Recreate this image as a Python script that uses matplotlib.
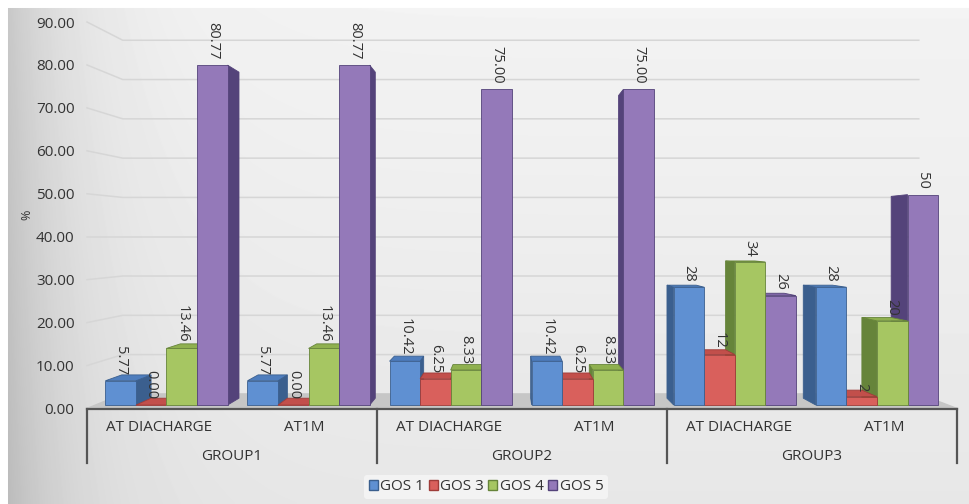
import numpy as np
import matplotlib.pyplot as plt
from matplotlib.patches import Polygon, Patch

plt.rcParams['font.family'] = ['Open Sans', 'DejaVu Sans']

# Datos
groups = ['GROUP1', 'GROUP2', 'GROUP3']
stages = ['AT DIACHARGE', 'AT1M']
series = ['GOS 1', 'GOS 3', 'GOS 4', 'GOS 5']
gos1 = [5.77, 5.77, 10.42, 10.42, 28, 28]
gos3 = [0.00, 0.00, 6.25, 6.25, 12, 2]
gos4 = [13.46, 13.46, 8.33, 8.33, 34, 20]
gos5 = [80.77, 80.77, 75.00, 75.00, 26, 50]
label_fmt = ['{:.2f}', '{:.2f}', '{:.2f}', '{:.2f}', '{:g}', '{:g}']
yticks = np.arange(0, 91, 10)

values = [gos1, gos3, gos4, gos5]
# colores: frente, lado, arriba
colors = [('#5f90d2', '#3b5f8e', '#4e7dbd'),
          ('#d9605c', '#9e3c39', '#c24f4b'),
          ('#a6c662', '#66843a', '#8fb04f'),
          ('#9479b9', '#54437a', '#7f66a6')]

# perspectiva
VX, VY = 2.4, 40.0
T0, T1 = 0.02, 0.06
TW = 0.085
bw = 0.215


def proj(x, v, t):
    return x + (VX - x) * t, v + (VY - v) * t


fig = plt.figure(figsize=(9.69, 5.04), dpi=100)

# fondo con degradado
bg = fig.add_axes([0, 0, 1, 1], zorder=-10)
H, W = 504, 969
xx, yy = np.meshgrid(np.arange(W), np.arange(H))
img = 0.955 - 0.17 * np.exp(-(xx - 8) / 70.0) - 0.05 * (yy / H)
img[(xx < 8) | (yy < 8)] = 1.0
bg.imshow(img, cmap='gray', vmin=0, vmax=1, aspect='auto', interpolation='bilinear')
bg.axis('off')

ax = fig.add_axes([87 / 969, 1 - 408.5 / 504, 870 / 969, 386.5 / 504])
ax.set_facecolor('none')
ax.set_xlim(-0.5, 5.5)
ax.set_ylim(0, 90)

# suelo
floor = [proj(-0.5, 0, 0), proj(5.5, 0, 0), proj(5.5, 0, TW), proj(-0.5, 0, TW)]
ax.add_patch(Polygon(floor, closed=True, color='#c6c6c6', zorder=1, clip_on=False))

# lineas de la cuadricula (pared del fondo y lateral)
for v in yticks[1:]:
    xl, yl = proj(-0.5, v, TW)
    xr, yr = proj(5.5, v, TW)
    ax.plot([-0.5, xl, xr], [v, yl, yr], color='#d6d6d6', lw=1.1, zorder=0.5, clip_on=False)

# barras 3D
bars = []
for j in range(6):
    for i in range(4):
        x0 = j - 2 * bw + i * bw
        bars.append((x0, x0 + bw, values[i][j], i, j))
bars.sort(key=lambda b: -abs((b[0] + b[1]) / 2 - VX))

for n, (x0, x1, h, i, j) in enumerate(bars):
    front, side, top = colors[i]
    z = 2 + n * 0.01
    if x1 <= VX or x0 >= VX:
        xs = x1 if x1 <= VX else x0
        pts = [proj(xs, 0, T0), proj(xs, h, T0), proj(xs, h, T1), proj(xs, 0, T1)]
        ax.add_patch(Polygon(pts, closed=True, facecolor=side, edgecolor=side, lw=0.6, zorder=z))
    if h < VY:
        pts = [proj(x0, h, T0), proj(x1, h, T0), proj(x1, h, T1), proj(x0, h, T1)]
        ax.add_patch(Polygon(pts, closed=True, facecolor=top, edgecolor=side, lw=0.6, zorder=z))
    fx0, fb = proj(x0, 0, T0)
    fx1, ft = proj(x1, h, T0)
    ax.bar(fx0, ft - fb, width=fx1 - fx0, bottom=fb, align='edge',
           color=front, edgecolor=side, lw=0.6, zorder=z + 0.005)
    ax.annotate(label_fmt[j].format(h), ((fx0 + fx1) / 2, ft), xytext=(0, 4),
                textcoords='offset points', rotation=-90, ha='center', va='bottom',
                fontsize=10.5, color='#333333', zorder=10, annotation_clip=False)

# eje de categorias
ax.plot([-0.5, 5.5], [0, 0], color='#555555', lw=1.6, zorder=5, clip_on=False)
trans = ax.get_xaxis_transform()
for xs in [-0.5, 1.5, 3.5, 5.5]:
    ax.plot([xs, xs], [0, -0.14], color='#555555', lw=1.6, transform=trans, clip_on=False)
for j in range(6):
    ax.text(j, -0.048, stages[j % 2], transform=trans, ha='center', va='center',
            fontsize=11, color='#333333')
for g in range(3):
    ax.text(2 * g + 0.5, -0.123, groups[g], transform=trans, ha='center', va='center',
            fontsize=11, color='#333333')

ax.set_xticks([])
ax.set_yticks(yticks)
ax.set_yticklabels(['{:.2f}'.format(t) for t in yticks], fontsize=11, color='#333333')
ax.tick_params(axis='y', length=0, pad=9)
for s in ax.spines.values():
    s.set_visible(False)

fig.text(27 / 969, 1 - 215 / 504, '%', rotation=90, ha='center', va='center',
         fontsize=9, color='#333333')

handles = [Patch(facecolor=colors[i][0], edgecolor=colors[i][1], label=series[i]) for i in range(4)]
leg = fig.legend(handles=handles, loc='center', bbox_to_anchor=(486 / 969, 1 - 487 / 504),
                 ncol=4, fontsize=11, frameon=True, handlelength=0.6, handleheight=0.6,
                 handletextpad=0.15, columnspacing=0.3, borderpad=0.3)
leg.get_frame().set_facecolor('#f3f3f3')
leg.get_frame().set_edgecolor('none')
leg.get_frame().set_alpha(1)
for t in leg.get_texts():
    t.set_color('#333333')

plt.savefig('out.png', dpi=100)
